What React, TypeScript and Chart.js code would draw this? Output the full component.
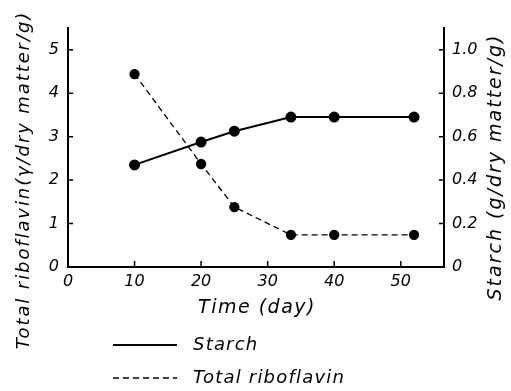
import React, { useEffect, useRef } from "react";
import { Chart, registerables } from "chart.js";

Chart.register(...registerables);

const days = [10, 20, 25, 33.5, 40, 52];
const starch = [0.47, 0.575, 0.625, 0.69, 0.69, 0.69];
const riboflavin = [4.44, 2.37, 1.38, 0.74, 0.74, 0.74];
const xTicks = [10, 20, 30, 40, 50];
const leftTicks = [1, 2, 3, 4, 5];
const rightTicks = [0.2, 0.4, 0.6, 0.8, 1.0];
const legendLabels = ["Starch", "Total riboflavin"];
const xTitle = "Time (day)";
const leftTitle = "Total riboflavin(γ/dry matter/g)";
const rightTitle = "Starch (g/dry matter/g)";

const FONT = "'DejaVu Sans', sans-serif";

export default function App() {
  const ref = useRef<HTMLCanvasElement | null>(null);
  useEffect(() => {
    document.body.style.margin = "0";
    const canvas = ref.current!;
    const decoPlugin = {
      id: "deco",
      afterDraw(chart: any) {
        const ctx = chart.ctx;
        const { x, y, y1 } = chart.scales;
        const area = chart.chartArea;
        ctx.save();
        ctx.strokeStyle = "#000";
        ctx.lineWidth = 1.5;
        ctx.beginPath();
        xTicks.forEach((v) => {
          const px = x.getPixelForValue(v);
          ctx.moveTo(px, area.bottom);
          ctx.lineTo(px, area.bottom - 6);
        });
        leftTicks.forEach((v) => {
          const py = y.getPixelForValue(v);
          ctx.moveTo(area.left, py);
          ctx.lineTo(area.left + 5, py);
        });
        rightTicks.forEach((v) => {
          const py = y1.getPixelForValue(v);
          ctx.moveTo(area.right, py);
          ctx.lineTo(area.right - 5, py);
        });
        ctx.stroke();

        ctx.fillStyle = "#000";
        ctx.textBaseline = "middle";
        ctx.textAlign = "center";
        // x title
        ctx.font = `italic 19px ${FONT}`;
        (ctx as any).letterSpacing = "1.5px";
        ctx.fillText(xTitle, 257, 308);
        // left title
        ctx.save();
        ctx.translate(24, 180);
        ctx.rotate(-Math.PI / 2);
        ctx.font = `italic 18px ${FONT}`;
        (ctx as any).letterSpacing = "1.9px";
        ctx.fillText(leftTitle, 0, 0);
        ctx.restore();
        // right title
        ctx.save();
        ctx.translate(496, 167);
        ctx.rotate(-Math.PI / 2);
        ctx.font = `italic 19px ${FONT}`;
        (ctx as any).letterSpacing = "2px";
        ctx.fillText(rightTitle, 0, 0);
        ctx.restore();

        // legend
        const lx0 = 113, lx1 = 177, tx = 193;
        const rows = [345, 378];
        ctx.lineWidth = 2;
        ctx.setLineDash([]);
        ctx.beginPath();
        ctx.moveTo(lx0, rows[0]);
        ctx.lineTo(lx1, rows[0]);
        ctx.stroke();
        ctx.lineWidth = 1.3;
        ctx.setLineDash([6, 4]);
        ctx.beginPath();
        ctx.moveTo(lx0, rows[1]);
        ctx.lineTo(lx1, rows[1]);
        ctx.stroke();
        ctx.setLineDash([]);
        ctx.font = `italic 18px ${FONT}`;
        (ctx as any).letterSpacing = "1.2px";
        ctx.textAlign = "left";
        ctx.fillText(legendLabels[0], tx, rows[0]);
        ctx.fillText(legendLabels[1], tx, rows[1]);
        ctx.restore();
      },
    };

    const chart = new Chart(canvas, {
      type: "line",
      data: {
        datasets: [
          {
            label: legendLabels[0],
            data: days.map((d, i) => ({ x: d, y: starch[i] })),
            yAxisID: "y1",
            borderColor: "#000",
            backgroundColor: "#000",
            borderWidth: 2,
            pointRadius: 4.5,
            pointBackgroundColor: "#000",
            pointBorderColor: "#000",
            tension: 0,
          },
          {
            label: legendLabels[1],
            data: days.map((d, i) => ({ x: d, y: riboflavin[i] })),
            yAxisID: "y",
            borderColor: "#000",
            backgroundColor: "#000",
            borderWidth: 1.3,
            borderDash: [6, 4],
            pointRadius: 4.5,
            pointBackgroundColor: "#000",
            pointBorderColor: "#000",
            tension: 0,
          },
        ],
      },
      options: {
        responsive: false,
        animation: false,
        layout: { padding: { top: 28, left: 0, right: 0, bottom: 70 } },
        plugins: { legend: { display: false }, tooltip: { enabled: false } },
        scales: {
          x: {
            type: "linear",
            min: 0,
            max: 56.5,
            grid: { display: false, drawTicks: false },
            border: { display: true, color: "#000", width: 2 },
            ticks: {
              stepSize: 10,
              includeBounds: false,
              padding: 5,
              color: "#000",
              font: { family: FONT, size: 16, style: "italic" },
              maxRotation: 0,
            },
            afterFit: (s: any) => {
              s.height = 54;
            },
          },
          y: {
            type: "linear",
            position: "left",
            min: 0,
            max: 5.5,
            grid: { display: false, drawTicks: false },
            border: { display: true, color: "#000", width: 2 },
            ticks: {
              stepSize: 1,
              includeBounds: false,
              padding: 9,
              color: "#000",
              font: { family: FONT, size: 16, style: "italic" },
            },
            afterFit: (s: any) => {
              s.width = 68;
            },
          },
          y1: {
            type: "linear",
            position: "right",
            min: 0,
            max: 1.1,
            grid: { display: false, drawTicks: false },
            border: { display: true, color: "#000", width: 2 },
            ticks: {
              stepSize: 0.2,
              includeBounds: false,
              padding: 8,
              color: "#000",
              font: { family: FONT, size: 16, style: "italic" },
              callback: (v: any) => (Number(v) === 0 ? "0" : Number(v).toFixed(1)),
            },
            afterFit: (s: any) => {
              s.width = 67;
            },
          },
        },
      },
      plugins: [decoPlugin],
    });
    return () => chart.destroy();
  }, []);
  return (
    <div style={{ width: 511, height: 391, background: "#fff" }}>
      <canvas ref={ref} width={511} height={391} />
    </div>
  );
}
